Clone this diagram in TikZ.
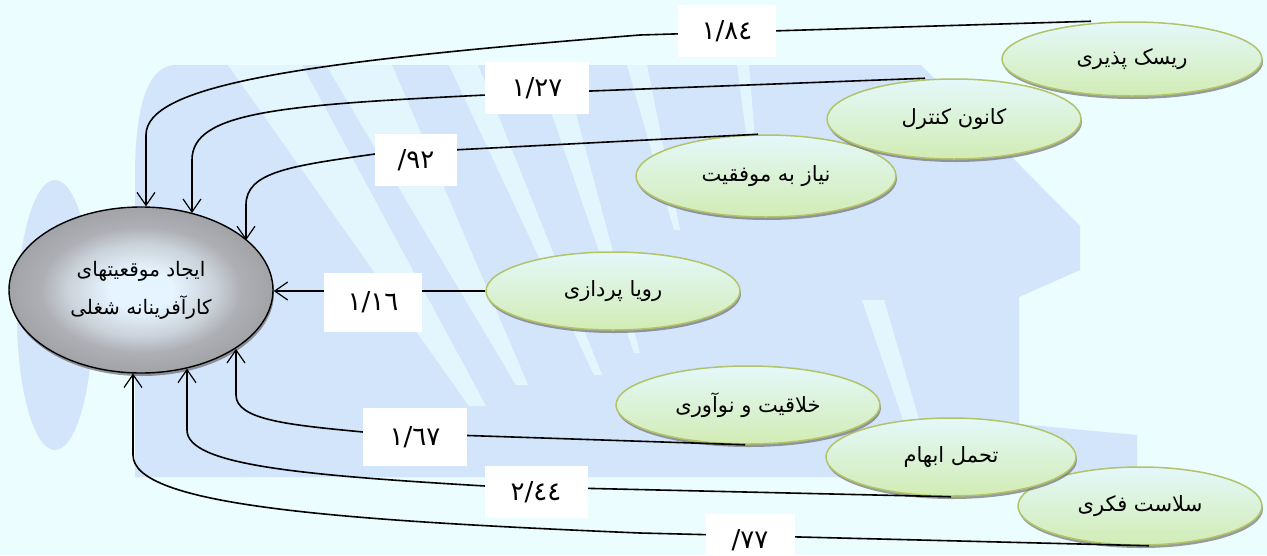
\documentclass[tikz,border=0pt]{standalone}
\usepackage{fontspec}
\newfontfamily\arabicfont[Script=Arabic]{DejaVu Sans}
\TeXXeTstate=1
\usetikzlibrary{shapes.geometric,arrows.meta,shadows,calc}

\definecolor{pagebg}{HTML}{EBFDFE}
\definecolor{markblue}{HTML}{D3E5FB}
\definecolor{leafedge}{HTML}{B2C36A}
\definecolor{leaftop}{HTML}{E4F8FA}
\definecolor{leafbottom}{HTML}{D2ECB4}
\definecolor{coreglow}{HTML}{E6F4FF}
\definecolor{coregrey}{HTML}{AEAFB4}
\definecolor{coreedge}{HTML}{A2A3A7}

\pgfdeclareradialshading{coreshade}{\pgfpoint{0bp}{0bp}}{%
  color(0bp)=(coreglow); color(6bp)=(coreglow);
  color(14bp)=(coregrey!50!coreglow); color(19bp)=(coregrey);
  color(25bp)=(coreedge); color(50bp)=(coreedge)}

\tikzset{
  core/.style={ellipse, draw=black, line width=1.4pt, shading=coreshade,
    minimum width=264pt, minimum height=166pt, inner sep=0pt, align=center,
    font=\arabicfont\fontsize{20}{38}\selectfont,
    drop shadow={shadow xshift=1pt, shadow yshift=-3pt, fill=black!55, opacity=0.75}},
  leaf/.style={ellipse, draw=leafedge, line width=1.5pt,
    top color=leaftop, bottom color=leafbottom, inner sep=0pt,
    minimum width=256pt, minimum height=78pt,
    font=\arabicfont\fontsize{21}{24}\selectfont,
    drop shadow={shadow xshift=1pt, shadow yshift=-3pt, fill=black!55, opacity=0.7}},
  weight/.style={fill=white, inner sep=0pt, minimum width=98pt, minimum height=52pt,
    font=\arabicfont\fontsize{26}{26}\selectfont},
  linkline/.style={draw=black, line width=1.6pt,
    -{Straight Barb[length=13pt,width=18pt,line width=1.2pt]}},
  gap/.style={fill=pagebg, opacity=0.75}
}

\begin{document}
\begin{tikzpicture}[x=1pt,y=-1pt]
\useasboundingbox (0,0) rectangle (1267,555);
\fill[pagebg] (0,0) rectangle (1267,555);

% faint emblem behind the diagram
\fill[markblue] (55,315) ellipse [x radius=38, y radius=135];
\fill[markblue] (135,477) -- (135,177) .. controls (135,100) and (150,65) .. (176,65)
  -- (921,65) -- (1080,226) -- (1080,270) -- (1019,297) -- (1019,424)
  -- (1137,435) -- (1137,477) -- cycle;
\fill[gap] (228,65) -- (302,65) -- (486,406) -- (469,406) -- cycle;
\fill[gap] (326,65) -- (392,65) -- (528,385) -- (516,385) -- cycle;
\fill[gap] (449,65) -- (478,65) -- (602,375) -- (594,375) -- cycle;
\fill[gap] (535,65) -- (563,65) -- (640,353) -- (634,353) -- cycle;
\fill[gap] (627,65) -- (647,65) -- (680,230) -- (674,230) -- cycle;
\fill[gap] (737,65) -- (749,65) -- (760,200) -- (755,200) -- cycle;
\fill[gap] (862,300) -- (884,300) -- (925,440) -- (910,440) -- cycle;

% factor ellipses, upper group
\node[leaf, minimum width=260pt, minimum height=82pt] (niaz) at (766,176) {\beginR نیاز به موفقیت\endR};
\node[leaf, minimum width=254pt, minimum height=80pt] (kanoon) at (954,119) {\beginR کانون کنترل\endR};
\node[leaf, minimum width=260pt, minimum height=74pt] (risk) at (1132,59) {\beginR ریسک پذیری\endR};
\node[leaf, minimum width=254pt] (roya) at (613,291) {\beginR رویا پردازی\endR};

% factor ellipses, lower group
\node[leaf, minimum width=244pt] (sal) at (1140,506) {\beginR سلاست فکری\endR};
\node[leaf, minimum width=250pt] (tah) at (951,457) {\beginR تحمل ابهام\endR};
\node[leaf, minimum width=264pt] (khal) at (748,405) {\beginR خلاقیت و نوآوری\endR};

% central outcome
\node[core] (main) at (141,290) {\beginR ایجاد موقعیتهای\endR\\ \beginR کارآفرینانه شغلی\endR};

% connectors
\draw[linkline] ([xshift=-41pt]risk.north) -- (640,35)
  .. controls (300,62) and (146,85) .. (146,135) -- (146,0 |- main.86.5);
\draw[linkline] ([xshift=-29pt]kanoon.north) -- (486,95)
  .. controls (280,105) and (192,112) .. (192,160) -- (192,0 |- main.56.3);
\draw[linkline] ([xshift=-8pt]niaz.north) -- (375,154)
  .. controls (290,166) and (246,172) .. (246,205) -- (246,0 |- main.25.6);
\draw[linkline] (roya.west) -- (roya.west -| main.east);
\draw[linkline] ([xshift=-3pt]khal.south) -- (363,432)
  .. controls (290,425) and (236,420) .. (236,395) -- (236,0 |- main.328.8);
\draw[linkline] (tah.south) -- (485,486)
  .. controls (300,475) and (187,465) .. (187,430) -- (187,0 |- main.300.6);
\draw[linkline] ([xshift=9pt]sal.south) -- (640,533)
  .. controls (330,520) and (133,505) .. (133,455) -- (133,0 |- main.264.5);

% path weights
\node[weight] (w1) at (727,31) {١/٨٤};
\node[weight, minimum width=104pt] (w2) at (537,88) {١/٢٧};
\node[weight, minimum width=82pt] (w3) at (416,160) {/\kern0pt٩٢};
\node[weight, minimum height=59pt] (w4) at (373,302) {١/١٦};
\node[weight, minimum width=104pt, minimum height=58pt] (w5) at (415,437) {١/٦٧};
\node[weight, minimum width=103pt] (w6) at (536,492) {٢/٤٤};
\node[weight, minimum width=89pt] (w7) at (750,540) {/\kern0pt٧٧};
\end{tikzpicture}
\end{document}
